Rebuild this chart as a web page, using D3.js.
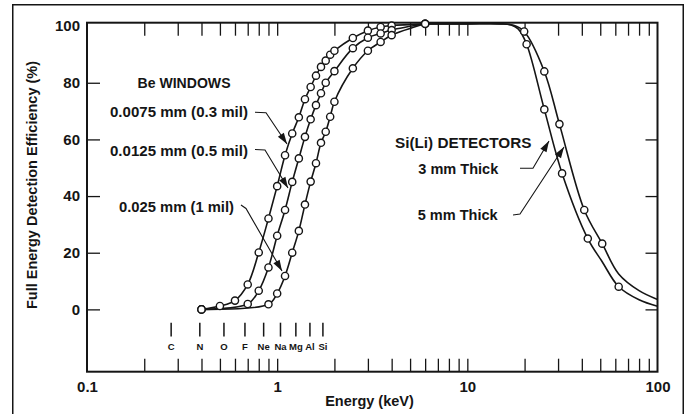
<!DOCTYPE html>
<html><head><meta charset="utf-8">
<script src="https://cdn.jsdelivr.net/npm/d3@7"></script>
<style>
html,body{margin:0;padding:0;background:#fff;}
svg{display:block;}
text{font-family:"Liberation Sans",Arial,Helvetica,sans-serif;font-weight:bold;fill:#151515;}
</style></head><body>
<svg id="chart" width="689" height="414"></svg>
<script>
// ---------- data ----------
const xTickValues = [0.1, 1, 10, 100];
const xTickLabels = ["0.1", "1", "10", "100"];
const yTickValues = [0, 20, 40, 60, 80, 100];
const yTickLabels = ["0", "20", "40", "60", "80", "100"];
const yInnerTicks = [0, 20, 40, 60, 80];
const minorTicks = [0.2,0.3,0.4,0.5,0.6,0.7,0.8,0.9,1,2,3,4,5,6,7,8,9,10,20,30,40,50,60,70,80,90];

const elementNames = ["C","N","O","F","Ne","Na","Mg","Al","Si"];
const elementEnergies = [0.277,0.392,0.525,0.677,0.849,1.041,1.254,1.487,1.740];

// Be window 0.0075 mm (0.3 mil)
const be0075E = [0.4,0.5,0.6,0.7,0.8,0.9,1.0,1.1,1.2,1.3,1.4,1.5,1.6,1.7,1.8,1.9,2.0,2.5,3.0,3.5,4.0,6.0];
const be0075V = [0,1.2,3.1,8.8,20.1,32.1,43.5,54.4,62.1,67.8,74.2,78.5,82.5,85.6,87.8,89.9,91.3,95.8,98.4,99.7,100.2,100.8];
// Be window 0.0125 mm (0.5 mil)
const be0125E = [0.4,0.7,0.8,0.9,1.0,1.1,1.2,1.3,1.4,1.5,1.6,1.7,1.8,2.0,2.5,3.0,3.5,4.0,6.0];
const be0125V = [0,1.9,6.6,14.8,26.0,35.1,45.0,53.3,60.9,67.1,72.1,76.3,80.0,84.1,92.2,95.9,97.4,98.6,100.8];
// Be window 0.025 mm (1 mil)
const be025E = [0.4,0.9,1.0,1.1,1.2,1.3,1.4,1.5,1.6,1.7,1.8,1.9,2.0,2.5,3.0,3.5,4.0,6.0];
const be025V = [0,1.8,5.6,11.8,20.0,27.7,37.0,45.1,51.6,58.8,62.7,68.0,73.3,85.1,91.3,94.4,96.8,100.8];

// Si(Li) detector 3 mm thick (curve points; marked = measured point)
const det3E      = [6,10,15,17,18.5,20.5,25.4,31.5,43,51,62.5,80,100];
const det3V      = [100.8,100.8,100.8,100.4,99.0,93.6,70.6,48.0,25.0,17.0,8.0,3.4,1.1];
const det3Marked = [0,0,0,0,0,1,1,1,1,0,1,0,0];
// Si(Li) detector 5 mm thick
const det5E      = [6,10,15,17.5,19.9,25.4,30.5,41.2,51.2,62.5,80,100];
const det5V      = [100.8,100.8,100.8,100.3,98.1,84.0,65.4,35.1,23.2,12.5,6.6,3.5];
const det5Marked = [0,0,0,0,1,1,1,1,1,0,0,0];

// ---------- chart ----------
const svg = d3.select("#chart");
const ink = "#151515";
const x = d3.scaleLog().domain([0.1, 100]).range([87, 657.5]);
const y = d3.scaleLinear().domain([-22, 101.2]).range([371.7, 22.7]);

// outer border
svg.append("rect").attr("x", 12.75).attr("y", 4.75).attr("width", 670.5).attr("height", 430)
  .attr("fill", "none").attr("stroke", ink).attr("stroke-width", 1.5);

function styleTicks(g, w) {
  g.select(".domain").remove();
  g.selectAll("line").attr("stroke", ink).attr("stroke-width", w);
}
svg.append("g").attr("transform", `translate(0,${y(-22)})`)
  .call(d3.axisBottom(x).tickValues(minorTicks).tickSize(-13).tickSizeOuter(0).tickFormat(""))
  .call(g => styleTicks(g, 1.3));
svg.append("g").attr("transform", `translate(0,${y(101.2)})`)
  .call(d3.axisTop(x).tickValues(minorTicks).tickSize(-13).tickSizeOuter(0).tickFormat(""))
  .call(g => styleTicks(g, 1.3));
svg.append("g").attr("transform", `translate(${x(0.1)},0)`)
  .call(d3.axisLeft(y).tickValues(yInnerTicks).tickSize(-13).tickSizeOuter(0).tickFormat(""))
  .call(g => styleTicks(g, 1.3));
svg.append("g").attr("transform", `translate(${x(100)},0)`)
  .call(d3.axisRight(y).tickValues(yInnerTicks).tickSize(-12).tickSizeOuter(0).tickFormat(""))
  .call(g => styleTicks(g, 1.3));

// plot frame
svg.append("rect").attr("x", x(0.1)).attr("y", y(101.2))
  .attr("width", x(100) - x(0.1)).attr("height", y(-22) - y(101.2))
  .attr("fill", "none").attr("stroke", ink).attr("stroke-width", 2);

// tick labels
svg.append("g").attr("transform", `translate(0,${y(-22)})`)
  .call(d3.axisBottom(x).tickValues(xTickValues).tickFormat((d, i) => xTickLabels[i]).tickSize(0).tickPadding(9.7))
  .call(g => { g.select(".domain").remove(); g.attr("font-size", null).attr("font-family", null);
    g.selectAll("text").attr("font-size", 15).attr("fill", ink); });
svg.append("g").attr("transform", `translate(${x(0.1)},0)`)
  .call(d3.axisLeft(y).tickValues(yTickValues).tickFormat((d, i) => yTickLabels[i]).tickSize(0).tickPadding(7))
  .call(g => { g.select(".domain").remove(); g.attr("font-size", null).attr("font-family", null);
    g.selectAll("text").attr("font-size", 15).attr("fill", ink); });

// axis titles
svg.append("text").attr("x", 369.5).attr("y", 405.5).attr("text-anchor", "middle")
  .attr("font-size", 14.5).text("Energy (keV)");
svg.append("text").attr("transform", "translate(36.5,185) rotate(-90)").attr("text-anchor", "middle")
  .attr("font-size", 14.5).text("Full Energy Detection Efficiency (%)");

// element markers
const elemTickTop = -4.7, elemTickBottom = -9.6, elemLabelV = -14.2;
const eg = svg.append("g");
eg.selectAll("line").data(elementEnergies).join("line")
  .attr("x1", d => x(d)).attr("x2", d => x(d))
  .attr("y1", y(elemTickTop)).attr("y2", y(elemTickBottom))
  .attr("stroke", ink).attr("stroke-width", 1.5);
eg.selectAll("text").data(elementNames).join("text")
  .attr("x", (d, i) => x(elementEnergies[i])).attr("y", y(elemLabelV))
  .attr("text-anchor", "middle").attr("font-size", 9.5).text(d => d);

// curves
const line = d3.line().x(d => x(d[0])).y(d => y(d[1])).curve(d3.curveCatmullRom.alpha(0.5));
const series = [
  { E: be0075E, V: be0075V, M: be0075E.map(() => 1) },
  { E: be0125E, V: be0125V, M: be0125E.map(() => 1) },
  { E: be025E,  V: be025V,  M: be025E.map(() => 1) },
  { E: det3E,   V: det3V,   M: det3Marked },
  { E: det5E,   V: det5V,   M: det5Marked }
];
series.forEach(s => {
  const pts = s.E.map((e, i) => [e, s.V[i]]);
  svg.append("path").attr("d", line(pts)).attr("fill", "none")
    .attr("stroke", ink).attr("stroke-width", 1.6);
});
series.forEach(s => {
  const pts = s.E.map((e, i) => [e, s.V[i], s.M[i]]).filter(p => p[2]);
  svg.append("g").selectAll("circle").data(pts).join("circle")
    .attr("cx", d => x(d[0])).attr("cy", d => y(d[1])).attr("r", 3.6)
    .attr("fill", "#fff").attr("stroke", ink).attr("stroke-width", 1.4);
});

// annotations (positions in data units: [energy keV, efficiency %])
const labels = [
  { t: "Be WINDOWS",           p: [0.1844, 78.15], w: 93 },
  { t: "0.0075 mm (0.3 mil)",  p: [0.1321, 67.91], w: 138 },
  { t: "0.0125 mm (0.5 mil)",  p: [0.1321, 54.32], w: 138 },
  { t: "0.025 mm (1 mil)",     p: [0.1473, 34.38], w: 115 },
  { t: "Si(Li) DETECTORS",     p: [4.165, 57.14],  w: 136.5 },
  { t: "3 mm Thick",           p: [5.523, 47.79],  w: 80 },
  { t: "5 mm Thick",           p: [5.483, 31.38],  w: 80 }
];
labels.forEach(l => {
  svg.append("text").attr("x", x(l.p[0])).attr("y", y(l.p[1]))
    .attr("font-size", 14.5).attr("textLength", l.w).attr("lengthAdjust", "spacingAndGlyphs").text(l.t);
});

const leaders = [
  [[0.7646, 69.57], [0.8737, 69.43], [1.1265, 58.38]],
  [[0.7646, 56.44], [0.8630, 56.26], [1.1402, 42.85]],
  [[0.6452, 36.85], [0.6856, 35.61], [1.0602, 13.55]],
  [[18.92, 49.80], [22.14, 49.80], [26.88, 59.44]],
  [[17.39, 33.32], [18.92, 33.67], [32.24, 57.32]]
];
leaders.forEach(pts => {
  const px = pts.map(p => [x(p[0]), y(p[1])]);
  svg.append("path").attr("d", d3.line()(px)).attr("fill", "none")
    .attr("stroke", ink).attr("stroke-width", 1.1);
  const [a, b] = [px[px.length - 2], px[px.length - 1]];
  const ang = Math.atan2(b[1] - a[1], b[0] - a[0]);
  const L = 11, W = 3.6;
  const bx = b[0] - L * Math.cos(ang), by = b[1] - L * Math.sin(ang);
  const nx = -Math.sin(ang) * W, ny = Math.cos(ang) * W;
  svg.append("path")
    .attr("d", `M${b[0]},${b[1]}L${bx + nx},${by + ny}L${bx - nx},${by - ny}Z`)
    .attr("fill", ink);
});
</script>
</body></html>
